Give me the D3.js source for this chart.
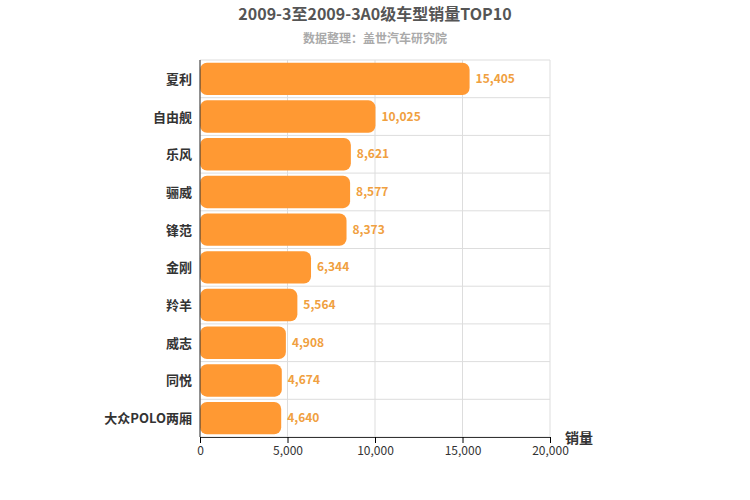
<!DOCTYPE html>
<html><head><meta charset="utf-8">
<script src="https://cdn.jsdelivr.net/npm/d3@7/dist/d3.min.js"></script>
<style>body{margin:0;background:#fff}text{font-family:"Noto Sans CJK SC","DejaVu Sans",sans-serif}</style>
</head><body>
<script>
var width = 750, height = 500;
var categories = ["夏利","自由舰","乐风","骊威","锋范","金刚","羚羊","威志","同悦","大众POLO两厢"];
var sales = [15405,10025,8621,8577,8373,6344,5564,4908,4674,4640];
var ticks = [0,5000,10000,15000,20000];

var m = {left:200, right:550, top:60, bottom:437};
var svg = d3.select("body").append("svg").attr("width", width).attr("height", height);

var x = d3.scaleLinear().domain([0,20000]).range([m.left, m.right]);
var y = d3.scaleBand().domain(categories).range([m.top, m.bottom]).paddingInner(0.14).paddingOuter(0.07);

// grid
svg.selectAll("line.v").data(ticks).enter().append("line")
    .attr("x1", function (d) { return x(d) }).attr("x2", function (d) { return x(d) })
    .attr("y1", m.top).attr("y2", m.bottom).attr("stroke", "#ddd");
var step = (m.bottom - m.top) / categories.length;
svg.selectAll("line.h").data(d3.range(categories.length + 1)).enter().append("line")
    .attr("x1", m.left).attr("x2", m.right)
    .attr("y1", function (d) { return m.top + d * step }).attr("y2", function (d) { return m.top + d * step })
    .attr("stroke", "#ddd");

// bars
svg.selectAll("rect.bar").data(sales).enter().append("rect")
    .attr("x", x(0)).attr("y", function (d, i) { return y(categories[i]) })
    .attr("width", function (d) { return x(d) - x(0) }).attr("height", y.bandwidth())
    .attr("rx", 7).attr("fill", "#ff9933");

svg.selectAll("text.val").data(sales).enter().append("text")
    .attr("x", function (d) { return x(d) + 6 })
    .attr("y", function (d, i) { return y(categories[i]) + y.bandwidth() / 2 + 4 })
    .attr("font-size", 12).attr("font-weight", "bold").attr("fill", "#f0a040")
    .text(function (d) { return d3.format(",")(d) });

svg.selectAll("text.cat").data(categories).enter().append("text")
    .attr("x", m.left - 8).attr("y", function (d) { return y(d) + y.bandwidth() / 2 + 5 })
    .attr("text-anchor", "end").attr("font-size", 13).attr("font-weight", "bold").attr("fill", "#333")
    .text(function (d) { return d });

// axes
var xa = svg.append("g").attr("transform", "translate(0," + m.bottom + ")")
    .call(d3.axisBottom(x).tickValues(ticks).tickFormat(d3.format(",")).tickSizeOuter(0));
xa.select(".domain").attr("stroke", "#333");
xa.selectAll("text").attr("font-size", 12).attr("fill", "#333");
svg.append("line").attr("x1", m.left).attr("x2", m.left).attr("y1", m.top).attr("y2", m.bottom).attr("stroke", "#333");

svg.append("text").attr("x", 565).attr("y", 443).attr("font-size", 14).attr("font-weight", "bold")
    .attr("fill", "#333").text("销量");
svg.append("text").attr("x", 375).attr("y", 20).attr("text-anchor", "middle")
    .attr("font-size", 16).attr("font-weight", "bold").attr("fill", "#555").text("2009-3至2009-3A0级车型销量TOP10");
svg.append("text").attr("x", 375).attr("y", 43).attr("text-anchor", "middle")
    .attr("font-size", 12).attr("font-weight", "bold").attr("fill", "#aaa").text("数据整理：盖世汽车研究院");
</script>
</body></html>
